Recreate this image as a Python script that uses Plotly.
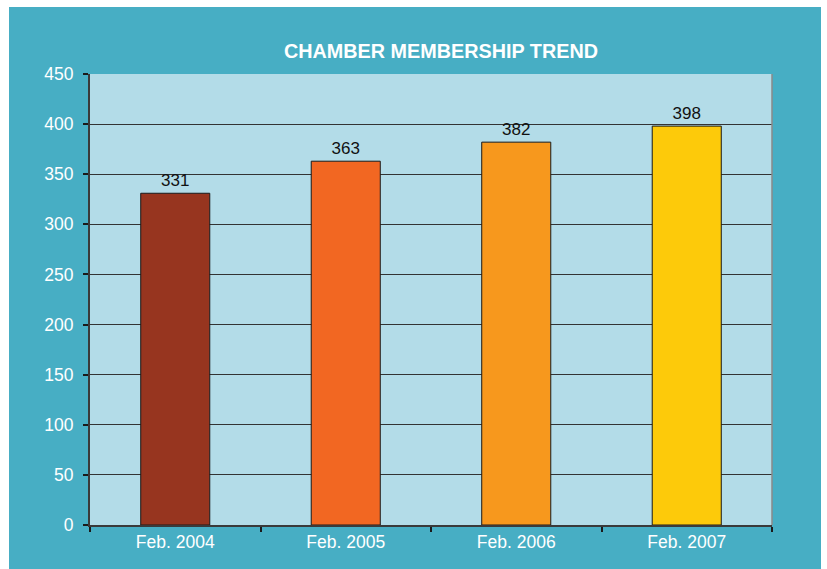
import plotly.graph_objects as go

categories = ["Feb. 2004", "Feb. 2005", "Feb. 2006", "Feb. 2007"]
members = [331, 363, 382, 398]
bar_colors = ["#97351F", "#F26722", "#F7981D", "#FDCA0A"]
y_ticks = [0, 50, 100, 150, 200, 250, 300, 350, 400, 450]
title_text = "CHAMBER MEMBERSHIP TREND"

W, H = 827, 569
L, R, T, B = 90, 772, 74, 525
pw, ph = R - L, B - T
FONT = "Liberation Sans, Arial"

fig = go.Figure()
fig.add_trace(go.Bar(
    x=categories, y=members,
    marker=dict(color=bar_colors, line=dict(color="#1a1a1a", width=1)),
    width=0.405,
    text=[str(v) for v in members],
    textposition="outside",
    textfont=dict(family=FONT, size=17, color="#111111"),
    cliponaxis=False,
    hoverinfo="skip",
))

# white margins around the teal panel
for x0, x1, y0, y1 in [(0, 9, 0, H), (821, W, 0, H), (0, W, 0, 7)]:
    fig.add_shape(type="rect", xref="paper", yref="paper", layer="below",
                  x0=(x0 - L) / pw, x1=(x1 - L) / pw,
                  y0=(B - y1) / ph, y1=(B - y0) / ph,
                  fillcolor="white", line=dict(width=0))
# right border of plot area
fig.add_shape(type="line", xref="paper", yref="paper",
              x0=1, x1=1, y0=0, y1=1, line=dict(color="#8a8a8a", width=1.5))

fig.add_annotation(text="<b>" + title_text + "</b>", xref="paper", yref="paper",
                   x=(441 - L) / pw, y=(B - 51) / ph, showarrow=False,
                   xanchor="center", yanchor="middle",
                   font=dict(family=FONT, size=19.8, color="white"))

fig.update_layout(
    width=W, height=H,
    margin=dict(l=L, r=W - R, t=T, b=H - B, pad=0),
    paper_bgcolor="#47AEC4",
    plot_bgcolor="#B3DCE8",
    showlegend=False,
    xaxis=dict(
        type="category",
        showline=True, linecolor="#3a3a3a", linewidth=2,
        ticks="outside", ticklen=5, tickcolor="#1a1a1a", tickwidth=1.5,
        tickson="boundaries",
        showgrid=False,
        tickfont=dict(family=FONT, size=17.5, color="white"),
        fixedrange=True,
    ),
    yaxis=dict(
        range=[0, 450], tickvals=y_ticks,
        showline=True, linecolor="#3a3a3a", linewidth=2,
        ticks="outside", ticklen=5, tickcolor="#1a1a1a", tickwidth=1.5,
        showgrid=True, gridcolor="#333333", gridwidth=1,
        zeroline=False,
        tickfont=dict(family=FONT, size=17.5, color="white"),
        ticklabelstandoff=6,
        fixedrange=True,
    ),
)

fig.write_html("out.html", config={"displayModeBar": False},
               post_script="document.body.style.margin='0';")
